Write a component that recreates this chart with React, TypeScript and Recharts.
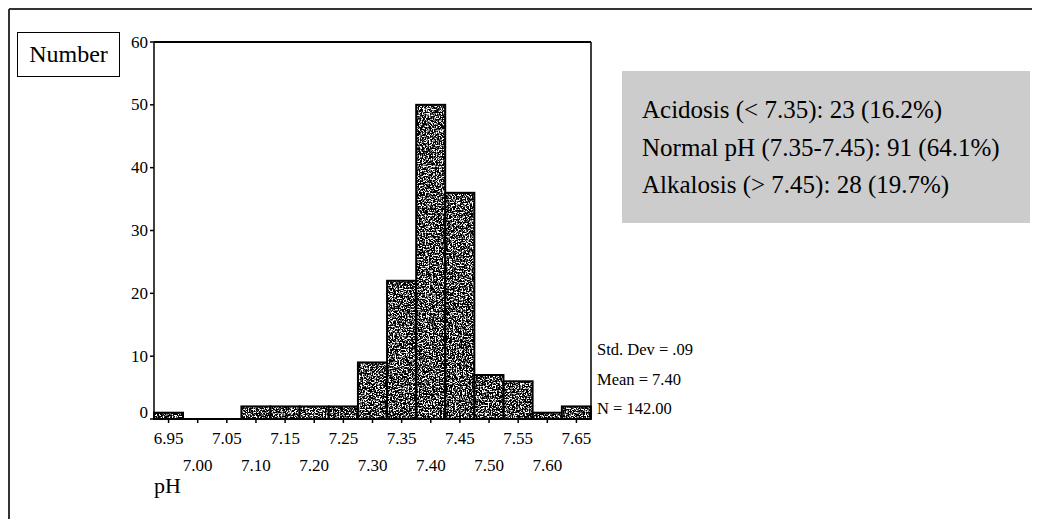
import React from "react";
import { BarChart, Bar, XAxis, YAxis } from "recharts";

const phBins = ["6.95", "7.00", "7.05", "7.10", "7.15", "7.20", "7.25", "7.30", "7.35", "7.40", "7.45", "7.50", "7.55", "7.60", "7.65"];
const counts = [1, 0, 0, 2, 2, 2, 2, 9, 22, 50, 36, 7, 6, 1, 2];
const countTicks = [0, 10, 20, 30, 40, 50, 60];
const statLines = ["Std. Dev = .09", "Mean = 7.40", "N = 142.00"];
const summaryLines = [
  "Acidosis (< 7.35): 23 (16.2%)",
  "Normal pH (7.35-7.45): 91 (64.1%)",
  "Alkalosis (> 7.45): 28 (19.7%)",
];
const yTitle = "Number";
const xTitle = "pH";

const data = phBins.map((ph, i) => ({ ph, count: counts[i] }));

const FONT = "'Liberation Serif', 'Times New Roman', serif";
const TABLE = "0 0 0 0 0 0 0 0 0 0 0.35 0.65 1 1 1 1 1 1 1 1";

const SpeckleBar = (props: any) => {
  const { x, y, width, height } = props;
  if (!height || height <= 0) return <g />;
  return (
    <g>
      <rect x={x} y={y} width={width} height={height} fill="#888" filter="url(#speckle)" />
      <rect x={x} y={y} width={width} height={height} fill="none" stroke="#000" strokeWidth={2} />
    </g>
  );
};

const XTick = (props: any) => {
  const { x, y, payload, index } = props;
  const dy = index % 2 === 0 ? 19 : 46;
  return (
    <text x={x} y={y + dy} textAnchor="middle" style={{ fontFamily: FONT, fontSize: 17 }} fill="#000">
      {payload.value}
    </text>
  );
};

const YTick = (props: any) => {
  const { x, y, payload } = props;
  const shift = payload.value === 0 ? -7 : 0;
  return (
    <text x={x} y={y + shift} dy="0.33em" textAnchor="end" style={{ fontFamily: FONT, fontSize: 17 }} fill="#000">
      {payload.value}
    </text>
  );
};

export default function App() {
  return (
    <div style={{ position: "relative", width: 1032, height: 511 }}>
      <style>{`html,body{overflow:hidden;}`}</style>
      <svg width={0} height={0} style={{ position: "absolute" }}>
        <defs>
          <filter id="speckle" x="0" y="0" width="100%" height="100%" colorInterpolationFilters="sRGB">
            <feTurbulence type="fractalNoise" baseFrequency="0.7" numOctaves={2} seed={11} result="noise" />
            <feColorMatrix
              in="noise"
              type="matrix"
              values="1 0 0 0 0  1 0 0 0 0  1 0 0 0 0  0 0 0 0 1"
              result="gray"
            />
            <feComponentTransfer in="gray">
              <feFuncR type="discrete" tableValues={TABLE} />
              <feFuncG type="discrete" tableValues={TABLE} />
              <feFuncB type="discrete" tableValues={TABLE} />
              <feFuncA type="table" tableValues="1 1" />
            </feComponentTransfer>
          </filter>
        </defs>
      </svg>
      <div style={{ position: "absolute", left: 0, top: 0 }}>
        <BarChart
          width={1032}
          height={511}
          data={data}
          margin={{ top: 33, right: 448, bottom: 99, left: 145 }}
          barCategoryGap={0}
          barGap={0}
        >
          <XAxis
            xAxisId="b"
            dataKey="ph"
            type="category"
            height={1}
            interval={0}
            tickSize={4}
            tickLine={{ stroke: "#000", strokeWidth: 1.5 }}
            axisLine={{ stroke: "#000", strokeWidth: 2 }}
            tick={(p: any) => <XTick {...p} />}
          />
          <XAxis
            xAxisId="t"
            orientation="top"
            dataKey="ph"
            type="category"
            height={1}
            tick={false}
            tickLine={false}
            axisLine={{ stroke: "#000", strokeWidth: 2 }}
          />
          <YAxis
            yAxisId="l"
            type="number"
            domain={[0, 60]}
            ticks={countTicks}
            interval={0}
            width={1}
            tickSize={4}
            tickLine={{ stroke: "#000", strokeWidth: 1.5 }}
            axisLine={{ stroke: "#000", strokeWidth: 1.5 }}
            tick={(p: any) => <YTick {...p} />}
          />
          <YAxis
            yAxisId="r"
            orientation="right"
            type="number"
            domain={[0, 60]}
            width={1}
            tick={false}
            tickLine={false}
            axisLine={{ stroke: "#000", strokeWidth: 1.5 }}
          />
          <Bar dataKey="count" xAxisId="b" yAxisId="l" shape={(p: any) => <SpeckleBar {...p} />} isAnimationActive={false} />
        </BarChart>
      </div>
      <svg
        width={1032}
        height={511}
        style={{ position: "absolute", left: 0, top: 0, pointerEvents: "none" }}
      >
        <line x1={1} y1={1} x2={1032} y2={1} stroke="#333" strokeWidth={2} />
        <line x1={1} y1={1} x2={1} y2={511} stroke="#333" strokeWidth={2} />
        <rect x={9.5} y={24.5} width={102} height={44} fill="#fff" stroke="#000" strokeWidth={1} />
        <text x={60.5} y={54} textAnchor="middle" fontFamily={FONT} fontSize={24} fill="#000">
          {yTitle}
        </text>
        <rect x={614} y={63} width={408} height={152} fill="#cccccc" />
        {summaryLines.map((s, i) => (
          <text key={s} x={634} y={110 + i * 37.5} fontFamily={FONT} fontSize={25} fill="#000">
            {s}
          </text>
        ))}
        {statLines.map((s, i) => (
          <text key={s} x={589} y={347 + i * 29.5} fontFamily={FONT} fontSize={16.5} fill="#000">
            {s}
          </text>
        ))}
        <text x={146} y={485} fontFamily={FONT} fontSize={22} fill="#000">
          {xTitle}
        </text>
      </svg>
    </div>
  );
}
